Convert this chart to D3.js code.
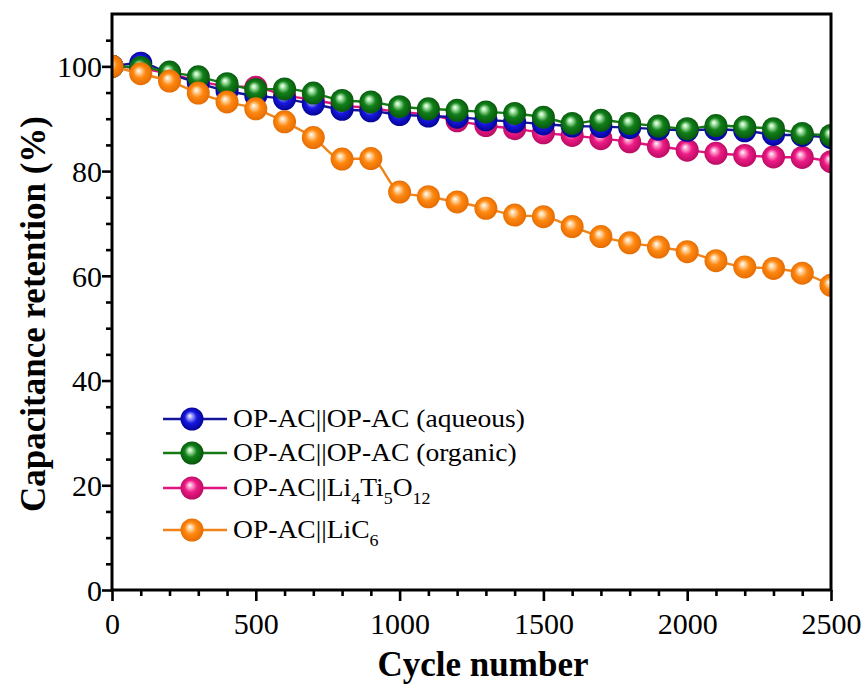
<!DOCTYPE html>
<html>
<head>
<meta charset="utf-8">
<script src="https://cdn.jsdelivr.net/npm/d3@7"></script>
<style>
  html, body { margin: 0; padding: 0; background: #fff; }
  svg { display: block; }
  text { font-family: "Liberation Serif", "Times New Roman", serif; fill: #000; }
</style>
</head>
<body>
<div id="chart"></div>
<script>
// Cycle numbers at which capacitance retention was recorded
const cycles = [0, 100, 200, 300, 400, 500, 600, 700, 800, 900, 1000, 1100, 1200,
                1300, 1400, 1500, 1600, 1700, 1800, 1900, 2000, 2100, 2200, 2300, 2400, 2500];

// Capacitance retention (%) for each device
const aqueous = [100, 100.6, 98.6, 96.8, 95.3, 94.4, 93.8, 92.8, 91.8, 91.5, 90.8, 90.5, 90.3,
                 89.8, 89.4, 89.0, 88.6, 88.5, 88.3, 88.0, 87.8, 88.0, 87.7, 87.0, 86.8, 86.4];
const organic = [100, 99.8, 98.9, 98.0, 96.7, 95.6, 95.7, 94.9, 93.5, 93.2, 92.3, 91.9, 91.6,
                 91.3, 91.0, 90.3, 89.1, 89.7, 89.1, 88.6, 88.1, 88.7, 88.4, 88.1, 87.2, 86.8];
const lto     = [100, 99.6, 98.6, 97.2, 96.2, 96.0, 94.5, 93.6, 92.6, 92.0, 91.3, 90.8, 89.6,
                 88.7, 88.1, 87.3, 86.8, 86.2, 85.6, 84.7, 84.0, 83.4, 83.0, 82.7, 82.6, 81.8];
const lic6    = [100, 98.6, 97.2, 94.9, 93.2, 91.9, 89.4, 86.4, 82.3, 82.4, 76.0, 75.1, 74.1,
                 72.9, 71.6, 71.3, 69.4, 67.5, 66.3, 65.5, 64.6, 62.9, 61.7, 61.4, 60.5, 58.2];

// Axis ticks
const xMajorTicks = [0, 500, 1000, 1500, 2000, 2500];
const xMinorTicks = [100, 200, 300, 400, 600, 700, 800, 900, 1100, 1200, 1300, 1400,
                     1600, 1700, 1800, 1900, 2100, 2200, 2300, 2400];
const yMajorTicks = [0, 20, 40, 60, 80, 100];
const yMinorTicks = [5, 10, 15, 25, 30, 35, 45, 50, 55, 65, 70, 75, 85, 90, 95, 105];

// Series: legend text is split into [text, isSubscript] pieces
const series = [
  { key: "lto", values: lto, line: "#e2127f", base: "#ee1a86", dark: "#b00a5c", light: "#ffb4da",
    label: [["OP-AC||Li", false], ["4", true], ["Ti", false], ["5", true], ["O", false], ["12", true]] },
  { key: "aqueous", values: aqueous, line: "#14149a", base: "#1818e0", dark: "#00008a", light: "#b8b8ff",
    label: [["OP-AC||OP-AC (aqueous)", false]] },
  { key: "organic", values: organic, line: "#147a14", base: "#12801a", dark: "#05500a", light: "#b8f0b8",
    label: [["OP-AC||OP-AC (organic)", false]] },
  { key: "lic6", values: lic6, line: "#f08418", base: "#ff8810", dark: "#e06800", light: "#ffe0b8",
    label: [["OP-AC||LiC", false], ["6", true]] }
];
const legendOrder = ["aqueous", "organic", "lto", "lic6"];

const W = 867, H = 690;
const margin = { left: 112, right: 36, top: 14, bottom: 100 };

const svg = d3.select("#chart").append("svg").attr("width", W).attr("height", H);
const defs = svg.append("defs");

const x = d3.scaleLinear().domain([0, 2500]).range([margin.left, W - margin.right]);
const y = d3.scaleLinear().domain([0, 110]).range([H - margin.bottom, margin.top]);

// Shaded-sphere gradients for markers
series.forEach(s => {
  const g = defs.append("radialGradient")
    .attr("id", "ball-" + s.key)
    .attr("cx", "50%").attr("cy", "50%").attr("r", "55%")
    .attr("fx", "40%").attr("fy", "36%");
  g.append("stop").attr("offset", "0%").attr("stop-color", "#ffffff");
  g.append("stop").attr("offset", "14%").attr("stop-color", s.light);
  g.append("stop").attr("offset", "48%").attr("stop-color", s.base);
  g.append("stop").attr("offset", "100%").attr("stop-color", s.dark);
});

defs.append("clipPath").attr("id", "plot-clip")
  .append("rect")
  .attr("x", x(0)).attr("y", y(110))
  .attr("width", x(2500) - x(0)).attr("height", y(0) - y(110));

const R = 11.5;
const line = d3.line()
  .x((d, i) => x(cycles[i]))
  .y(d => y(d))
  .curve(d3.curveMonotoneX);

const plot = svg.append("g").attr("clip-path", "url(#plot-clip)");
series.forEach(s => {
  const g = plot.append("g");
  g.append("path")
    .attr("d", line(s.values))
    .attr("fill", "none")
    .attr("stroke", s.line)
    .attr("stroke-width", 2.4);
  g.selectAll("circle").data(s.values).join("circle")
    .attr("cx", (d, i) => x(cycles[i]))
    .attr("cy", d => y(d))
    .attr("r", R)
    .attr("fill", `url(#ball-${s.key})`);
});

// Axes
const axisFont = 30;
const xAxis = d3.axisBottom(x).tickValues(xMajorTicks).tickSize(11).tickPadding(12)
  .tickFormat(d3.format("d"));
const xMinor = d3.axisBottom(x).tickValues(xMinorTicks).tickSize(6).tickFormat("");
const yAxis = d3.axisLeft(y).tickValues(yMajorTicks).tickSize(10).tickPadding(0)
  .tickFormat(d3.format("d"));
const yMinor = d3.axisLeft(y).tickValues(yMinorTicks).tickSize(6).tickFormat("");

function styleAxis(g) {
  g.select(".domain").remove();
  g.selectAll(".tick line").attr("stroke", "#000").attr("stroke-width", 2.6);
  g.selectAll(".tick text")
    .attr("font-family", "Liberation Serif, Times New Roman, serif")
    .attr("font-size", axisFont).attr("fill", "#000");
}

svg.append("g").attr("transform", `translate(0,${y(0)})`).call(xMinor).call(styleAxis);
svg.append("g").attr("transform", `translate(0,${y(0)})`).call(xAxis).call(styleAxis);
svg.append("g").attr("transform", `translate(${x(0)},0)`).call(yMinor).call(styleAxis);
svg.append("g").attr("transform", `translate(${x(0)},0)`).call(yAxis).call(styleAxis)
  .selectAll(".tick text").attr("dy", "0.34em");

// Frame
svg.append("rect")
  .attr("x", x(0)).attr("y", y(110))
  .attr("width", x(2500) - x(0)).attr("height", y(0) - y(110))
  .attr("fill", "none").attr("stroke", "#000").attr("stroke-width", 3);

// Axis titles
svg.append("text")
  .attr("x", 483).attr("y", 676)
  .attr("text-anchor", "middle")
  .attr("font-size", 35).attr("font-weight", "bold")
  .text("Cycle number");

svg.append("text")
  .attr("transform", `translate(45,314) rotate(-90)`)
  .attr("text-anchor", "middle")
  .attr("font-size", 35).attr("font-weight", "bold")
  .text("Capacitance retention (%)");

// Legend
const legendRows = [419, 453, 488, 530];
const legend = svg.append("g");
legendOrder.forEach((k, i) => {
  const s = series.find(d => d.key === k);
  const row = legend.append("g").attr("transform", `translate(0,${legendRows[i]})`);
  row.append("line").attr("x1", 163).attr("x2", 227).attr("y1", 0).attr("y2", 0)
    .attr("stroke", s.line).attr("stroke-width", 2.4);
  row.append("circle").attr("cx", 192).attr("cy", 0).attr("r", R)
    .attr("fill", `url(#ball-${s.key})`);
  const t = row.append("text")
    .attr("transform", "translate(233,8) scale(1.06,1)")
    .attr("font-size", 26);
  s.label.forEach(([txt, sub]) => {
    if (sub) {
      t.append("tspan").attr("font-size", 17).attr("dy", 8).text(txt);
    } else {
      const ts = t.append("tspan").text(txt);
      if (t.selectAll("tspan").size() > 1) ts.attr("dy", -8);
    }
  });
});
</script>
</body>
</html>
